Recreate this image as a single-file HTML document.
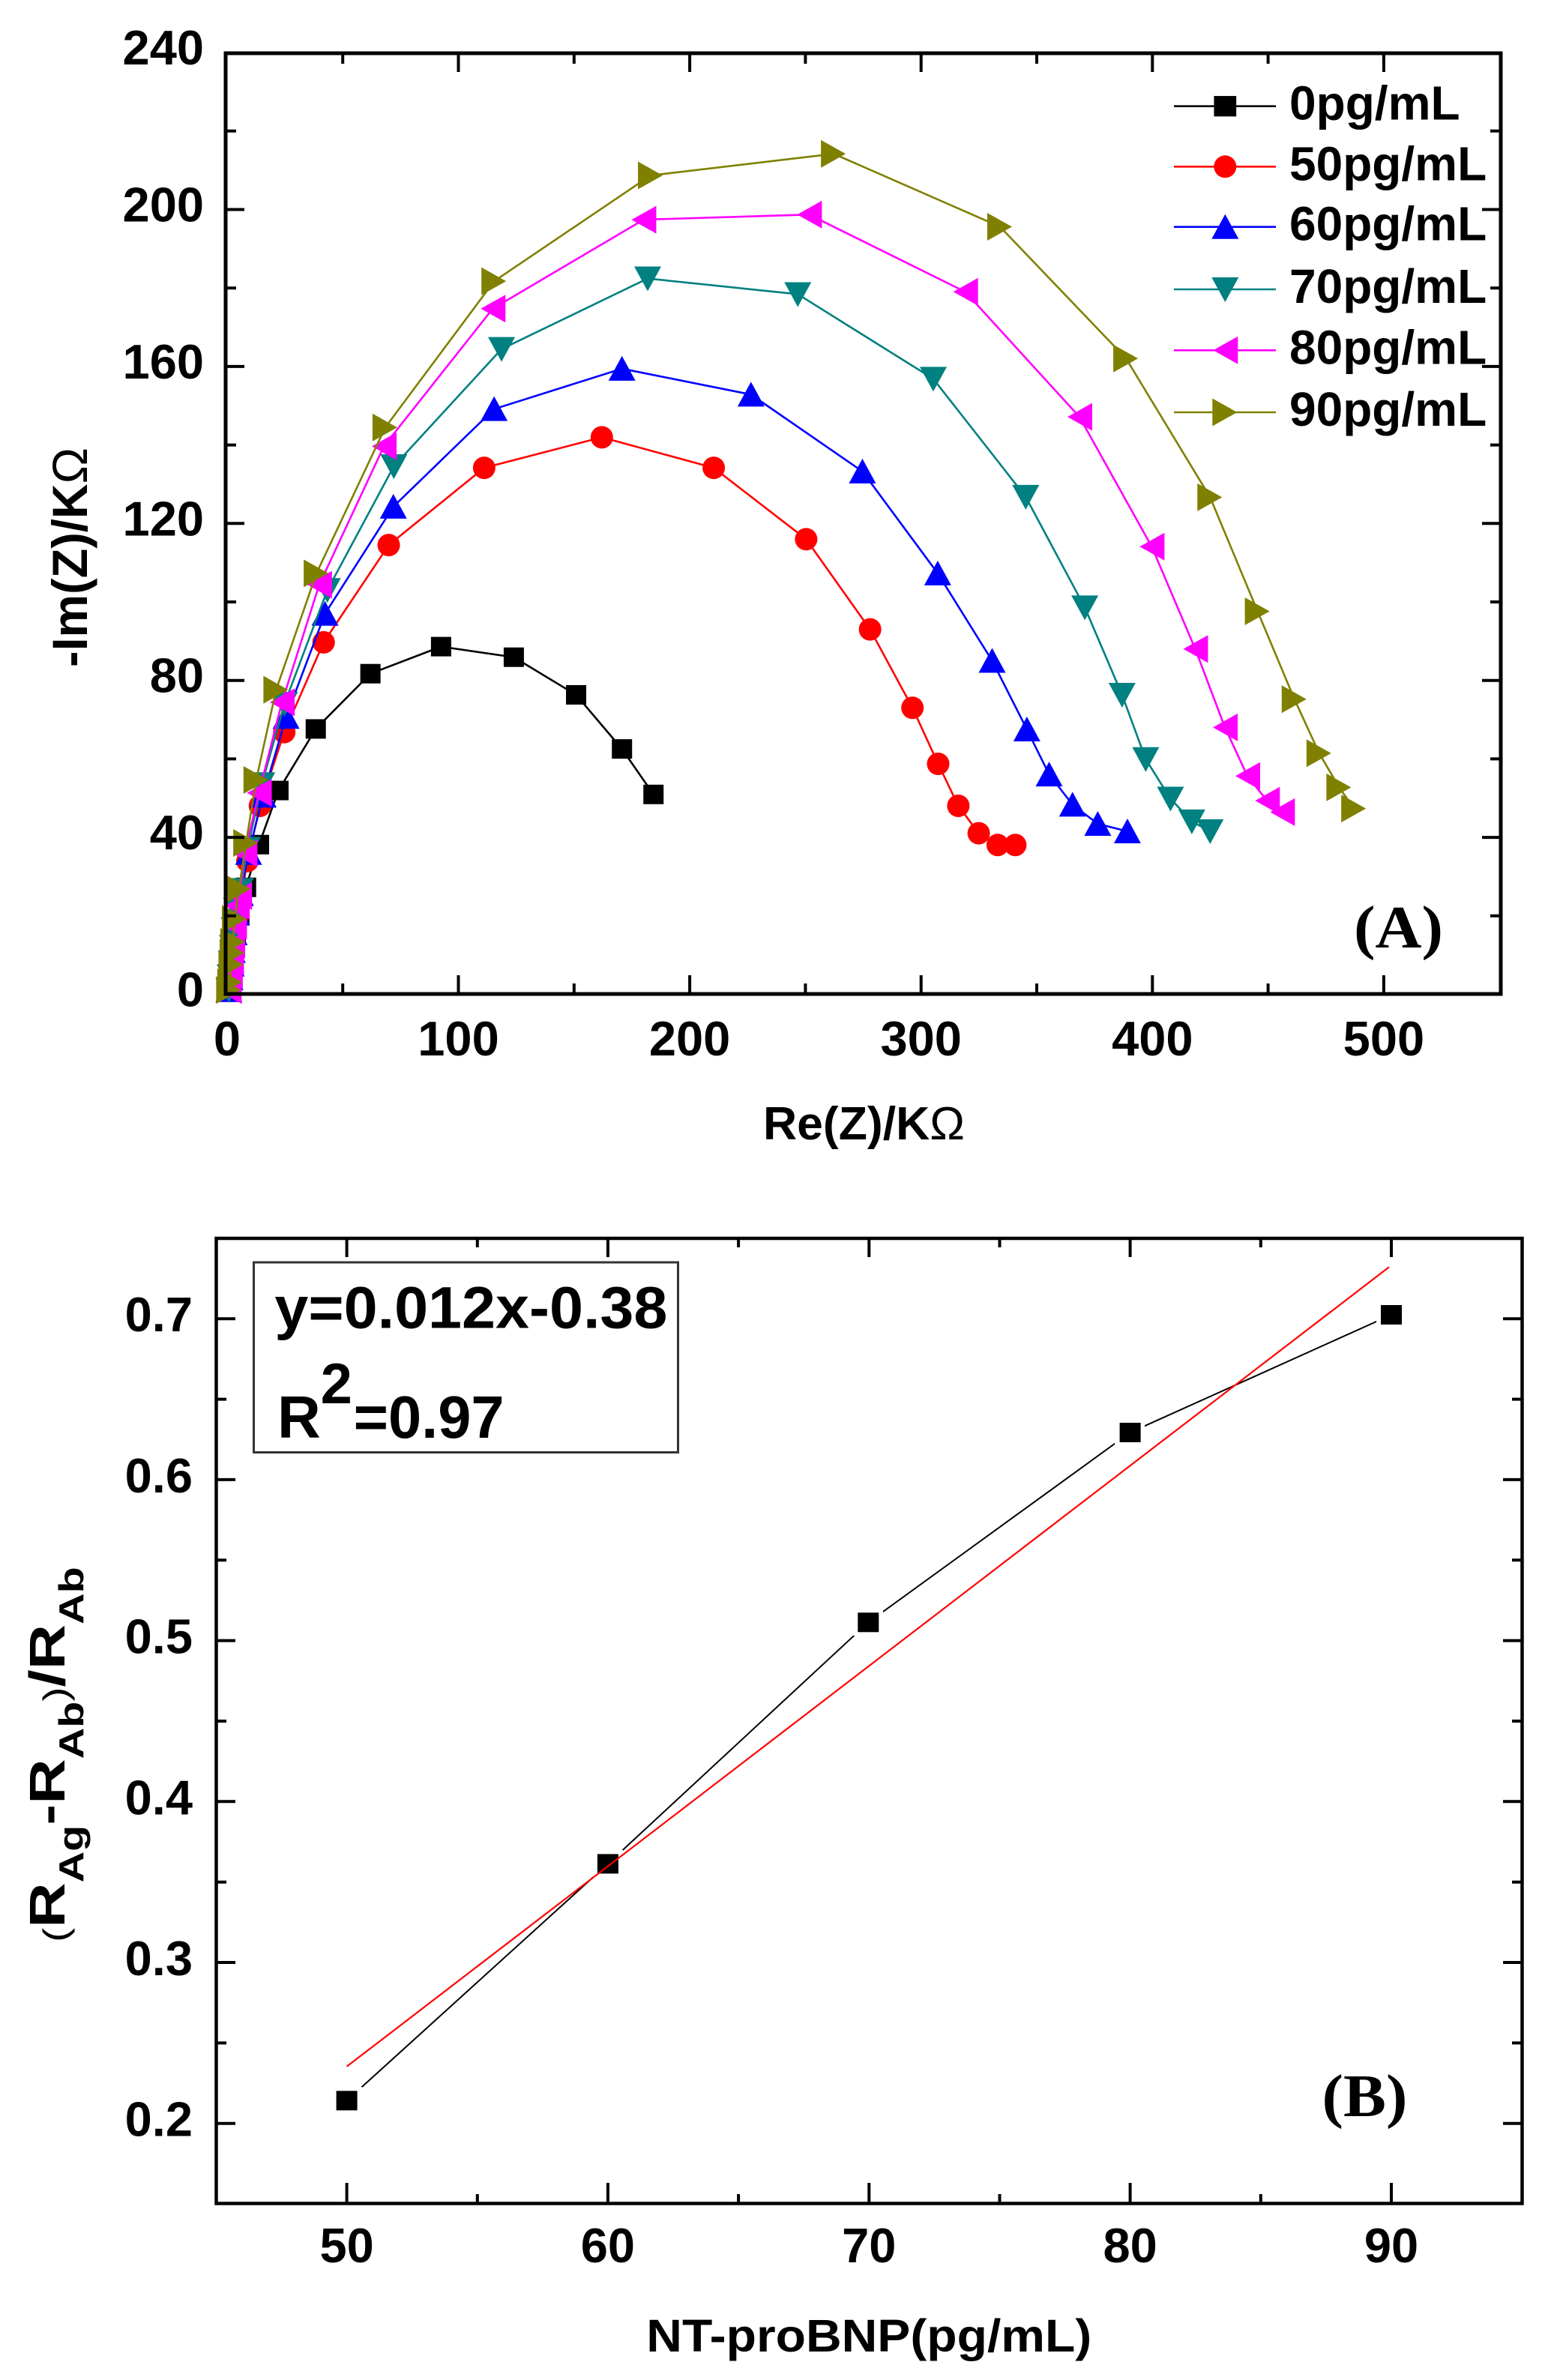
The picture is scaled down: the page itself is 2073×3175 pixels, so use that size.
<!DOCTYPE html>
<html>
<head>
<meta charset="utf-8">
<style>
html,body{margin:0;padding:0;background:#fff;}
svg{display:block;}
</style>
</head>
<body>
<svg width="2073" height="3175" viewBox="0 0 2073 3175" xmlns="http://www.w3.org/2000/svg" font-family="'Liberation Sans', Arial, sans-serif" font-weight="bold">
<defs>
  <rect id="sq" x="-13.5" y="-13" width="27" height="26"/>
  <circle id="ci" r="15"/>
  <polygon id="tu" points="0,-17 18,16 -18,16"/>
  <polygon id="td" points="-18,-16 18,-16 0,17"/>
  <polygon id="tl" points="-16,0 17,-18.5 17,18.5"/>
  <polygon id="tr" points="16,0 -17,-18.5 -17,18.5"/>
</defs>
<rect width="2073" height="3175" fill="#fff"/>

<!-- ================= PANEL A ================= -->
<g transform="translate(300.7,1326) scale(3.09,-5.23)" fill="none" stroke-linejoin="round">
  <!-- black -->
  <polyline vector-effect="non-scaling-stroke" stroke="#000" stroke-width="2.6" points="1.5,1 2,4 2.5,7 3.5,11 4.5,15 6,20 8.9,27.2 14.5,38.1 22.9,51.9 39,67.6 62.6,81.7 93.1,88.6 124.5,85.9 151.4,76.3 171.2,62.5 184.8,50.9"/>
  <g fill="#000" stroke="none">
    <use href="#sq" transform="translate(1.5 1) scale(0.3236 -0.1912)"/>
    <use href="#sq" transform="translate(2 4) scale(0.3236 -0.1912)"/>
    <use href="#sq" transform="translate(2.5 7) scale(0.3236 -0.1912)"/>
    <use href="#sq" transform="translate(3.5 11) scale(0.3236 -0.1912)"/>
    <use href="#sq" transform="translate(4.5 15) scale(0.3236 -0.1912)"/>
    <use href="#sq" transform="translate(6 20) scale(0.3236 -0.1912)"/>
    <use href="#sq" transform="translate(8.9 27.2) scale(0.3236 -0.1912)"/>
    <use href="#sq" transform="translate(14.5 38.1) scale(0.3236 -0.1912)"/>
    <use href="#sq" transform="translate(22.9 51.9) scale(0.3236 -0.1912)"/>
    <use href="#sq" transform="translate(39 67.6) scale(0.3236 -0.1912)"/>
    <use href="#sq" transform="translate(62.6 81.7) scale(0.3236 -0.1912)"/>
    <use href="#sq" transform="translate(93.1 88.6) scale(0.3236 -0.1912)"/>
    <use href="#sq" transform="translate(124.5 85.9) scale(0.3236 -0.1912)"/>
    <use href="#sq" transform="translate(151.4 76.3) scale(0.3236 -0.1912)"/>
    <use href="#sq" transform="translate(171.2 62.5) scale(0.3236 -0.1912)"/>
    <use href="#sq" transform="translate(184.8 50.9) scale(0.3236 -0.1912)"/>
  </g>
  <!-- red -->
  <polyline vector-effect="non-scaling-stroke" stroke="#ff0000" stroke-width="2.6" points="1.5,1 2,3.5 2.5,7 3,10.5 3.8,14.5 4.8,19 6.4,23.5 9.5,33.9 14.9,48 25.4,66.8 42.4,89.7 70.5,114.5 111.7,134.2 162.5,142 210.8,134.2 250.7,116 278.3,93 296.6,73 307.7,58.7 316.4,48 325.2,41 333.4,38 341,38"/>
  <g fill="#ff0000" stroke="none">
    <use href="#ci" transform="translate(1.5 1) scale(0.3236 -0.1912)"/>
    <use href="#ci" transform="translate(2 3.5) scale(0.3236 -0.1912)"/>
    <use href="#ci" transform="translate(2.5 7) scale(0.3236 -0.1912)"/>
    <use href="#ci" transform="translate(3 10.5) scale(0.3236 -0.1912)"/>
    <use href="#ci" transform="translate(3.8 14.5) scale(0.3236 -0.1912)"/>
    <use href="#ci" transform="translate(4.8 19) scale(0.3236 -0.1912)"/>
    <use href="#ci" transform="translate(6.4 23.5) scale(0.3236 -0.1912)"/>
    <use href="#ci" transform="translate(9.5 33.9) scale(0.3236 -0.1912)"/>
    <use href="#ci" transform="translate(14.9 48) scale(0.3236 -0.1912)"/>
    <use href="#ci" transform="translate(25.4 66.8) scale(0.3236 -0.1912)"/>
    <use href="#ci" transform="translate(42.4 89.7) scale(0.3236 -0.1912)"/>
    <use href="#ci" transform="translate(70.5 114.5) scale(0.3236 -0.1912)"/>
    <use href="#ci" transform="translate(111.7 134.2) scale(0.3236 -0.1912)"/>
    <use href="#ci" transform="translate(162.5 142) scale(0.3236 -0.1912)"/>
    <use href="#ci" transform="translate(210.8 134.2) scale(0.3236 -0.1912)"/>
    <use href="#ci" transform="translate(250.7 116) scale(0.3236 -0.1912)"/>
    <use href="#ci" transform="translate(278.3 93) scale(0.3236 -0.1912)"/>
    <use href="#ci" transform="translate(296.6 73) scale(0.3236 -0.1912)"/>
    <use href="#ci" transform="translate(307.7 58.7) scale(0.3236 -0.1912)"/>
    <use href="#ci" transform="translate(316.4 48) scale(0.3236 -0.1912)"/>
    <use href="#ci" transform="translate(325.2 41) scale(0.3236 -0.1912)"/>
    <use href="#ci" transform="translate(333.4 38) scale(0.3236 -0.1912)"/>
    <use href="#ci" transform="translate(341 38) scale(0.3236 -0.1912)"/>
  </g>
  <!-- blue -->
  <polyline vector-effect="non-scaling-stroke" stroke="#0000ff" stroke-width="2.6" points="1.5,1 2,4 2.5,7.5 3,11 3.8,15.5 4.8,20.5 6.5,25.5 10,36 16.3,50.6 26.2,70.7 43,97 72.5,124.3 116,149.2 171.2,159.5 226.9,152.9 275,133.3 307.5,107.3 331,85 346,67.5 355.6,56 365.7,48.3 376.6,43.4 389.4,41.5"/>
  <g fill="#0000ff" stroke="none">
    <use href="#tu" transform="translate(1.5 1) scale(0.3236 -0.1912)"/>
    <use href="#tu" transform="translate(2 4) scale(0.3236 -0.1912)"/>
    <use href="#tu" transform="translate(2.5 7.5) scale(0.3236 -0.1912)"/>
    <use href="#tu" transform="translate(3 11) scale(0.3236 -0.1912)"/>
    <use href="#tu" transform="translate(3.8 15.5) scale(0.3236 -0.1912)"/>
    <use href="#tu" transform="translate(4.8 20.5) scale(0.3236 -0.1912)"/>
    <use href="#tu" transform="translate(6.5 25.5) scale(0.3236 -0.1912)"/>
    <use href="#tu" transform="translate(10 36) scale(0.3236 -0.1912)"/>
    <use href="#tu" transform="translate(16.3 50.6) scale(0.3236 -0.1912)"/>
    <use href="#tu" transform="translate(26.2 70.7) scale(0.3236 -0.1912)"/>
    <use href="#tu" transform="translate(43 97) scale(0.3236 -0.1912)"/>
    <use href="#tu" transform="translate(72.5 124.3) scale(0.3236 -0.1912)"/>
    <use href="#tu" transform="translate(116 149.2) scale(0.3236 -0.1912)"/>
    <use href="#tu" transform="translate(171.2 159.5) scale(0.3236 -0.1912)"/>
    <use href="#tu" transform="translate(226.9 152.9) scale(0.3236 -0.1912)"/>
    <use href="#tu" transform="translate(275 133.3) scale(0.3236 -0.1912)"/>
    <use href="#tu" transform="translate(307.5 107.3) scale(0.3236 -0.1912)"/>
    <use href="#tu" transform="translate(331 85) scale(0.3236 -0.1912)"/>
    <use href="#tu" transform="translate(346 67.5) scale(0.3236 -0.1912)"/>
    <use href="#tu" transform="translate(355.6 56) scale(0.3236 -0.1912)"/>
    <use href="#tu" transform="translate(365.7 48.3) scale(0.3236 -0.1912)"/>
    <use href="#tu" transform="translate(376.6 43.4) scale(0.3236 -0.1912)"/>
    <use href="#tu" transform="translate(389.4 41.5) scale(0.3236 -0.1912)"/>
  </g>
  <!-- teal -->
  <polyline vector-effect="non-scaling-stroke" stroke="#008080" stroke-width="2.6" points="1.5,1 2,4.5 2.5,8 3,12 3.8,16.5 4.8,21.5 6.5,26.5 9.5,37 15.7,53.5 25.5,74 44,103 72.7,134.6 119.2,164.5 182.3,182.5 247.1,178.5 305.6,156.9 345.5,126.8 371,98.6 387.1,76.3 397.3,59.9 408,49.8 417.2,44 425.1,41.5"/>
  <g fill="#008080" stroke="none">
    <use href="#td" transform="translate(1.5 1) scale(0.3236 -0.1912)"/>
    <use href="#td" transform="translate(2 4.5) scale(0.3236 -0.1912)"/>
    <use href="#td" transform="translate(2.5 8) scale(0.3236 -0.1912)"/>
    <use href="#td" transform="translate(3 12) scale(0.3236 -0.1912)"/>
    <use href="#td" transform="translate(3.8 16.5) scale(0.3236 -0.1912)"/>
    <use href="#td" transform="translate(4.8 21.5) scale(0.3236 -0.1912)"/>
    <use href="#td" transform="translate(6.5 26.5) scale(0.3236 -0.1912)"/>
    <use href="#td" transform="translate(9.5 37) scale(0.3236 -0.1912)"/>
    <use href="#td" transform="translate(15.7 53.5) scale(0.3236 -0.1912)"/>
    <use href="#td" transform="translate(25.5 74) scale(0.3236 -0.1912)"/>
    <use href="#td" transform="translate(44 103) scale(0.3236 -0.1912)"/>
    <use href="#td" transform="translate(72.7 134.6) scale(0.3236 -0.1912)"/>
    <use href="#td" transform="translate(119.2 164.5) scale(0.3236 -0.1912)"/>
    <use href="#td" transform="translate(182.3 182.5) scale(0.3236 -0.1912)"/>
    <use href="#td" transform="translate(247.1 178.5) scale(0.3236 -0.1912)"/>
    <use href="#td" transform="translate(305.6 156.9) scale(0.3236 -0.1912)"/>
    <use href="#td" transform="translate(345.5 126.8) scale(0.3236 -0.1912)"/>
    <use href="#td" transform="translate(371 98.6) scale(0.3236 -0.1912)"/>
    <use href="#td" transform="translate(387.1 76.3) scale(0.3236 -0.1912)"/>
    <use href="#td" transform="translate(397.3 59.9) scale(0.3236 -0.1912)"/>
    <use href="#td" transform="translate(408 49.8) scale(0.3236 -0.1912)"/>
    <use href="#td" transform="translate(417.2 44) scale(0.3236 -0.1912)"/>
    <use href="#td" transform="translate(425.1 41.5) scale(0.3236 -0.1912)"/>
  </g>
  <!-- magenta -->
  <polyline vector-effect="non-scaling-stroke" stroke="#ff00ff" stroke-width="2.6" points="1.5,1 2,5 2.5,8.5 3,12.5 3.8,17.5 5,22.5 6,25 8.3,35.9 14.5,51.3 24.4,74.4 40.5,104.4 68.4,139.7 115.4,174.8 180.5,197.5 252,198.8 319.4,179.1 368.7,147.2 399.9,114.1 418.7,88 431.5,68 441.2,55.6 449.7,49.3 456.2,46.4"/>
  <g fill="#ff00ff" stroke="none">
    <use href="#tl" transform="translate(1.5 1) scale(0.3236 -0.1912)"/>
    <use href="#tl" transform="translate(2 5) scale(0.3236 -0.1912)"/>
    <use href="#tl" transform="translate(2.5 8.5) scale(0.3236 -0.1912)"/>
    <use href="#tl" transform="translate(3 12.5) scale(0.3236 -0.1912)"/>
    <use href="#tl" transform="translate(3.8 17.5) scale(0.3236 -0.1912)"/>
    <use href="#tl" transform="translate(5 22.5) scale(0.3236 -0.1912)"/>
    <use href="#tl" transform="translate(6 25) scale(0.3236 -0.1912)"/>
    <use href="#tl" transform="translate(8.3 35.9) scale(0.3236 -0.1912)"/>
    <use href="#tl" transform="translate(14.5 51.3) scale(0.3236 -0.1912)"/>
    <use href="#tl" transform="translate(24.4 74.4) scale(0.3236 -0.1912)"/>
    <use href="#tl" transform="translate(40.5 104.4) scale(0.3236 -0.1912)"/>
    <use href="#tl" transform="translate(68.4 139.7) scale(0.3236 -0.1912)"/>
    <use href="#tl" transform="translate(115.4 174.8) scale(0.3236 -0.1912)"/>
    <use href="#tl" transform="translate(180.5 197.5) scale(0.3236 -0.1912)"/>
    <use href="#tl" transform="translate(252 198.8) scale(0.3236 -0.1912)"/>
    <use href="#tl" transform="translate(319.4 179.1) scale(0.3236 -0.1912)"/>
    <use href="#tl" transform="translate(368.7 147.2) scale(0.3236 -0.1912)"/>
    <use href="#tl" transform="translate(399.9 114.1) scale(0.3236 -0.1912)"/>
    <use href="#tl" transform="translate(418.7 88) scale(0.3236 -0.1912)"/>
    <use href="#tl" transform="translate(431.5 68) scale(0.3236 -0.1912)"/>
    <use href="#tl" transform="translate(441.2 55.6) scale(0.3236 -0.1912)"/>
    <use href="#tl" transform="translate(449.7 49.3) scale(0.3236 -0.1912)"/>
    <use href="#tl" transform="translate(456.2 46.4) scale(0.3236 -0.1912)"/>
  </g>
  <!-- olive -->
  <polyline vector-effect="non-scaling-stroke" stroke="#808000" stroke-width="2.6" points="1.5,1 2,3 2.5,7.5 3,10.5 3.3,13.3 4,19.1 5.8,26.8 8.9,38.5 13.3,54.6 21.9,77.6 39.3,107.3 69,144.5 116,181.8 183.6,208.8 262.6,214.3 334.4,195.7 388.8,162.1 425.1,126.7 445.6,97.6 461.5,75.2 472.2,61.4 480.8,52.7 487.2,47.3"/>
  <g fill="#808000" stroke="none">
    <use href="#tr" transform="translate(1.5 1) scale(0.3236 -0.1912)"/>
    <use href="#tr" transform="translate(2 3) scale(0.3236 -0.1912)"/>
    <use href="#tr" transform="translate(2.5 7.5) scale(0.3236 -0.1912)"/>
    <use href="#tr" transform="translate(3 10.5) scale(0.3236 -0.1912)"/>
    <use href="#tr" transform="translate(3.3 13.3) scale(0.3236 -0.1912)"/>
    <use href="#tr" transform="translate(4 19.1) scale(0.3236 -0.1912)"/>
    <use href="#tr" transform="translate(5.8 26.8) scale(0.3236 -0.1912)"/>
    <use href="#tr" transform="translate(8.9 38.5) scale(0.3236 -0.1912)"/>
    <use href="#tr" transform="translate(13.3 54.6) scale(0.3236 -0.1912)"/>
    <use href="#tr" transform="translate(21.9 77.6) scale(0.3236 -0.1912)"/>
    <use href="#tr" transform="translate(39.3 107.3) scale(0.3236 -0.1912)"/>
    <use href="#tr" transform="translate(69 144.5) scale(0.3236 -0.1912)"/>
    <use href="#tr" transform="translate(116 181.8) scale(0.3236 -0.1912)"/>
    <use href="#tr" transform="translate(183.6 208.8) scale(0.3236 -0.1912)"/>
    <use href="#tr" transform="translate(262.6 214.3) scale(0.3236 -0.1912)"/>
    <use href="#tr" transform="translate(334.4 195.7) scale(0.3236 -0.1912)"/>
    <use href="#tr" transform="translate(388.8 162.1) scale(0.3236 -0.1912)"/>
    <use href="#tr" transform="translate(425.1 126.7) scale(0.3236 -0.1912)"/>
    <use href="#tr" transform="translate(445.6 97.6) scale(0.3236 -0.1912)"/>
    <use href="#tr" transform="translate(461.5 75.2) scale(0.3236 -0.1912)"/>
    <use href="#tr" transform="translate(472.2 61.4) scale(0.3236 -0.1912)"/>
    <use href="#tr" transform="translate(480.8 52.7) scale(0.3236 -0.1912)"/>
    <use href="#tr" transform="translate(487.2 47.3) scale(0.3236 -0.1912)"/>
  </g>
</g>

<!-- A frame and ticks -->
<rect x="301" y="71" width="1701" height="1255" fill="none" stroke="#000" stroke-width="5"/>
<path fill="none" stroke="#000" stroke-width="4" d="
M301,1117.1H326 M301,907.7H326 M301,698.3H326 M301,488.9H326 M301,279.5H326
M301,1221.8H315 M301,1012.4H315 M301,803H315 M301,593.6H315 M301,384.2H315 M301,174.8H315
M2002,1117.1H1977 M2002,907.7H1977 M2002,698.3H1977 M2002,488.9H1977 M2002,279.5H1977
M2002,1221.8H1988 M2002,1012.4H1988 M2002,803H1988 M2002,593.6H1988 M2002,384.2H1988 M2002,174.8H1988
M611.5,1326V1301 M920.1,1326V1301 M1228.7,1326V1301 M1537.3,1326V1301 M1845.9,1326V1301
M457.2,1326V1312 M765.8,1326V1312 M1074.4,1326V1312 M1383,1326V1312 M1691.6,1326V1312
M611.5,71V96 M920.1,71V96 M1228.7,71V96 M1537.3,71V96 M1845.9,71V96
M457.2,71V85 M765.8,71V85 M1074.4,71V85 M1383,71V85 M1691.6,71V85"/>

<!-- A tick labels -->
<g font-size="65" fill="#000" text-anchor="end">
  <text x="272" y="1342.5">0</text>
  <text x="272" y="1133">40</text>
  <text x="272" y="923.7">80</text>
  <text x="272" y="714.3">120</text>
  <text x="272" y="505">160</text>
  <text x="272" y="295.5">200</text>
  <text x="272" y="86">240</text>
</g>
<g font-size="65" fill="#000" text-anchor="middle">
  <text x="302.9" y="1408">0</text>
  <text x="611.5" y="1408">100</text>
  <text x="920.1" y="1408">200</text>
  <text x="1228.7" y="1408">300</text>
  <text x="1537.3" y="1408">400</text>
  <text x="1845.9" y="1408">500</text>
</g>

<!-- A axis titles -->
<text x="1152.5" y="1520" font-size="62" text-anchor="middle" textLength="269" lengthAdjust="spacingAndGlyphs">Re(Z)/K<tspan font-weight="normal">Ω</tspan></text>
<text transform="translate(116 743.5) rotate(-90)" x="0" y="0" font-size="66" text-anchor="middle" textLength="293" lengthAdjust="spacingAndGlyphs">-Im(Z)/K<tspan font-weight="normal">Ω</tspan></text>

<!-- A legend -->
<g stroke-width="2.6">
  <line x1="1566" y1="141.7" x2="1702" y2="141.7" stroke="#000"/>
  <line x1="1566" y1="222.3" x2="1702" y2="222.3" stroke="#ff0000"/>
  <line x1="1566" y1="302.7" x2="1702" y2="302.7" stroke="#0000ff"/>
  <line x1="1566" y1="386" x2="1702" y2="386" stroke="#008080"/>
  <line x1="1566" y1="467.3" x2="1702" y2="467.3" stroke="#ff00ff"/>
  <line x1="1566" y1="550" x2="1702" y2="550" stroke="#808000"/>
</g>
<use href="#sq" fill="#000" transform="translate(1634.3 141.7) scale(1.1 1.05)"/>
<use href="#ci" fill="#ff0000" transform="translate(1634.3 222.3)"/>
<use href="#tu" fill="#0000ff" transform="translate(1634.3 302.7)"/>
<use href="#td" fill="#008080" transform="translate(1634.3 386)"/>
<use href="#tl" fill="#ff00ff" transform="translate(1634.3 467.3)"/>
<use href="#tr" fill="#808000" transform="translate(1634.3 550)"/>
<g font-size="64" fill="#000">
  <text x="1720" y="159.7">0pg/mL</text>
  <text x="1720" y="240.3">50pg/mL</text>
  <text x="1720" y="320.7">60pg/mL</text>
  <text x="1720" y="404">70pg/mL</text>
  <text x="1720" y="485.3">80pg/mL</text>
  <text x="1720" y="568">90pg/mL</text>
</g>

<text x="1806" y="1264" font-family="'Liberation Serif', 'Times New Roman', serif" font-size="80" textLength="119" lengthAdjust="spacingAndGlyphs">(A)</text>

<!-- ================= PANEL B ================= -->
<rect x="288.5" y="1652" width="1742" height="1287.5" fill="none" stroke="#000" stroke-width="4.5"/>
<path fill="none" stroke="#000" stroke-width="4" d="
M288.5,2832.7H314 M288.5,2618H314 M288.5,2403.3H314 M288.5,2188.6H314 M288.5,1973.9H314 M288.5,1759.2H314
M288.5,2725.4H302 M288.5,2510.7H302 M288.5,2296H302 M288.5,2081.3H302 M288.5,1866.6H302
M2030.5,2832.7H2005 M2030.5,2618H2005 M2030.5,2403.3H2005 M2030.5,2188.6H2005 M2030.5,1973.9H2005 M2030.5,1759.2H2005
M2030.5,2725.4H2017 M2030.5,2510.7H2017 M2030.5,2296H2017 M2030.5,2081.3H2017 M2030.5,1866.6H2017
M462.6,2939.5V2912 M810.9,2939.5V2912 M1159.3,2939.5V2912 M1507.6,2939.5V2912 M1856,2939.5V2912
M636.8,2939.5V2927 M985.1,2939.5V2927 M1333.5,2939.5V2927 M1681.8,2939.5V2927
M462.6,1652V1677 M810.9,1652V1677 M1159.3,1652V1677 M1507.6,1652V1677 M1856,1652V1677
M636.8,1652V1664 M985.1,1652V1664 M1333.5,1652V1664 M1681.8,1652V1664"/>

<!-- B data -->
<polyline fill="none" stroke="#000" stroke-width="2" points="462.6,2802.3 810.9,2486.4 1158.3,2164.3 1507.6,1911 1856,1754"/>
<g fill="#fff">
  <rect x="443" y="2784" width="40" height="36"/>
  <rect x="791" y="2468" width="40" height="36"/>
  <rect x="1138" y="2146" width="40" height="36"/>
  <rect x="1487" y="1893" width="40" height="36"/>
  <rect x="1836" y="1736" width="40" height="36"/>
</g>
<g fill="#000">
  <rect x="448.6" y="2789.3" width="28" height="26"/>
  <rect x="796.9" y="2473.4" width="28" height="26"/>
  <rect x="1144.3" y="2151.3" width="28" height="26"/>
  <rect x="1493.6" y="1898" width="28" height="26"/>
  <rect x="1842" y="1741" width="28" height="26"/>
</g>
<line x1="462.6" y1="2756.8" x2="1853" y2="1690.3" stroke="#ff0000" stroke-width="2.2"/>

<!-- B equation box -->
<rect x="338.5" y="1684" width="566" height="253.5" fill="#fff" stroke="#333" stroke-width="3"/>
<text x="366.4" y="1771.7" font-size="79" textLength="524" lengthAdjust="spacingAndGlyphs">y=0.012x-0.38</text>
<text x="370" y="1918" font-size="80">R</text>
<text x="427.6" y="1872" font-size="76">2</text>
<text x="471.6" y="1918" font-size="80" textLength="201" lengthAdjust="spacingAndGlyphs">=0.97</text>

<!-- B tick labels -->
<g font-size="65" fill="#000" text-anchor="end">
  <text x="257" y="2849.7">0.2</text>
  <text x="257" y="2635">0.3</text>
  <text x="257" y="2420.3">0.4</text>
  <text x="257" y="2205.6">0.5</text>
  <text x="257" y="1990.9">0.6</text>
  <text x="257" y="1776.2">0.7</text>
</g>
<g font-size="65" fill="#000" text-anchor="middle">
  <text x="462.6" y="3018">50</text>
  <text x="810.9" y="3018">60</text>
  <text x="1159.3" y="3018">70</text>
  <text x="1507.6" y="3018">80</text>
  <text x="1856" y="3018">90</text>
</g>

<!-- B axis titles -->
<text x="1159.3" y="3137" font-size="61" text-anchor="middle" textLength="594" lengthAdjust="spacingAndGlyphs">NT-proBNP(pg/mL)</text>
<text transform="translate(86 2591) rotate(-90) scale(1.25 1)" x="0" y="0" font-size="67"><tspan font-size="46" font-weight="normal" dy="4">(</tspan><tspan dy="-4">R</tspan><tspan font-size="46" dy="25">Ag</tspan><tspan dy="-25">-R</tspan><tspan font-size="46" dy="25">Ab</tspan><tspan font-size="46" font-weight="normal" dy="-21">)</tspan><tspan dy="-4">/R</tspan><tspan font-size="46" dy="25">Ab</tspan></text>

<text x="1763.5" y="2823" font-family="'Liberation Serif', 'Times New Roman', serif" font-size="80" textLength="114" lengthAdjust="spacingAndGlyphs">(B)</text>
</svg>
</body>
</html>
